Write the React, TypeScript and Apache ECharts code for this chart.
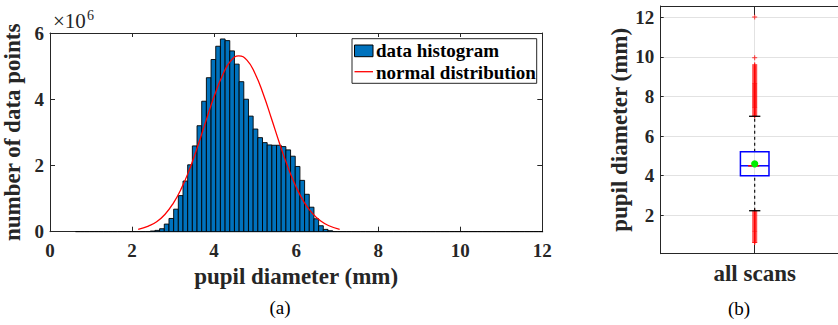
import React, { useEffect, useRef } from "react";
import * as echarts from "echarts";

const FONT = "Liberation Serif";
const TEXT = "#262626";
const BAR_BLUE = "#0072BD";

// ---- (a) histogram: 100 bins from the data min (0.62 mm), width 0.114 mm; heights in millions ----
const binStart = 0.62;
const binWidth = 0.114;
const binCountsMillions = [
  0, 0, 0, 0, 0, 0, 0, 0, 0, 0,
  0, 0, 0, 0, 0, 0, 0.02, 0.04, 0.09, 0.23,
  0.4, 0.68, 1.09, 1.53, 2.02, 2.59, 3.2, 3.94, 4.65, 5.2,
  5.6, 5.82, 5.77, 5.46, 5.06, 4.53, 4.0, 3.49, 3.1, 2.84,
  2.69, 2.62, 2.61, 2.61, 2.57, 2.47, 2.28, 1.97, 1.55, 1.13,
  0.74, 0.39, 0.18, 0.07, 0.03, 0, 0, 0, 0, 0,
  0, 0, 0, 0, 0, 0, 0, 0, 0, 0,
  0, 0, 0, 0, 0, 0, 0, 0, 0, 0,
  0, 0, 0, 0, 0, 0, 0, 0, 0, 0,
  0, 0, 0, 0, 0, 0, 0, 0, 0, 0,
];

// fitted normal distribution curve (x in mm, y in millions)
const normalX = [2.15, 2.4, 2.6, 2.8, 3.0, 3.2, 3.4, 3.6, 3.8, 4.0, 4.2, 4.4, 4.6, 4.8, 5.0, 5.2, 5.4, 5.6, 5.8, 6.0, 6.2, 6.4, 6.6, 6.8, 7.06];
const normalY = [0.07, 0.17, 0.3, 0.52, 0.85, 1.3, 1.88, 2.58, 3.34, 4.08, 4.71, 5.15, 5.31, 5.18, 4.77, 4.15, 3.41, 2.65, 1.95, 1.35, 0.88, 0.55, 0.32, 0.18, 0.07];

const legendLabels = ["data histogram", "normal distribution"];

// ---- (b) box plot ----
const boxCategory = "all scans";
const boxStats = { lowerWhisker: 2.23, q1: 4.0, median: 4.5, q3: 5.21, upperWhisker: 7.0, mean: 4.6 };
const upperOutliers = [
  7.02, 7.05, 7.1, 7.15, 7.2, 7.25, 7.3, 7.35, 7.4, 7.45, 7.5, 7.55, 7.6, 7.65, 7.7, 7.75, 7.8, 7.85, 7.9, 7.95,
  8.0, 8.05, 8.1, 8.15, 8.2, 8.25, 8.3, 8.35, 8.4, 8.45, 8.5, 8.55, 8.6, 8.65, 8.7, 8.75, 8.8, 8.85, 8.9, 8.95,
  9.0, 9.05, 9.1, 9.15, 9.2, 9.25, 9.3, 9.35, 9.4, 9.45, 9.5, 9.55, 9.6, 9.96, 12.02,
];
const lowerOutliers = [
  0.62, 0.65, 0.7, 0.75, 0.8, 0.85, 0.9, 0.95, 1.0, 1.05, 1.1, 1.15, 1.2, 1.25, 1.3, 1.35, 1.4, 1.45, 1.5, 1.55,
  1.6, 1.65, 1.7, 1.75, 1.8, 1.85, 1.9, 1.95, 2.0, 2.05, 2.1, 2.15, 2.2,
];

const PLUS = "path://M2,0H3V2H5V3H3V5H2V3H0V2H2Z";

function buildOption() {
  const histData = binCountsMillions.map((c, i) => [binStart + i * binWidth, binStart + (i + 1) * binWidth, c]);
  const normalData = normalX.map((x, i) => [x, normalY[i]]);
  const boxData = [[1, boxStats.lowerWhisker, boxStats.q1, boxStats.median, boxStats.q3, boxStats.upperWhisker, boxStats.mean]];
  const outlierData = [...upperOutliers, ...lowerOutliers].map((v) => [1, v]);

  const tickLabel = { fontFamily: FONT, fontWeight: "bold", fontSize: 19, color: TEXT };
  const nameStyle = { fontFamily: FONT, fontWeight: "bold", fontSize: 23, color: TEXT };
  const line = { lineStyle: { color: TEXT, width: 1 } };

  return {
    animation: false,
    textStyle: { fontFamily: FONT },
    grid: [
      { left: 50, top: 33, width: 492.3, height: 198.7, outerBoundsMode: "none", containLabel: false },
      { left: 660.7, top: 6, width: 188, height: 247.7, outerBoundsMode: "none", containLabel: false },
    ],
    xAxis: [
      {
        type: "value", gridIndex: 0, position: "bottom", min: 0, max: 12, interval: 2,
        axisLine: { onZero: false, ...line },
        axisTick: { inside: true, length: 5, ...line },
        axisLabel: { margin: 9, ...tickLabel },
        splitLine: { show: false },
        name: "pupil diameter (mm)", nameLocation: "middle", nameGap: 31, nameTextStyle: nameStyle,
      },
      {
        type: "value", gridIndex: 0, position: "top", min: 0, max: 12, interval: 2,
        axisLine: { onZero: false, ...line },
        axisTick: { inside: true, length: 4, ...line },
        axisLabel: { show: false },
        splitLine: { show: false },
      },
      {
        type: "value", gridIndex: 1, position: "bottom", min: 0, max: 2, interval: 1,
        axisLine: { onZero: false, ...line },
        axisTick: { inside: true, length: 9, ...line },
        axisLabel: {
          margin: 8, ...tickLabel, fontSize: 23,
          formatter: (v: number) => (v === 1 ? boxCategory : ""),
        },
        splitLine: { show: true, lineStyle: { color: "#e2e2e2", width: 1 } },
      },
      {
        type: "value", gridIndex: 1, position: "top", min: 0, max: 2, interval: 1,
        axisLine: { onZero: false, ...line },
        axisTick: { inside: true, length: 9, ...line },
        axisLabel: { show: false },
        splitLine: { show: false },
      },
    ],
    yAxis: [
      {
        type: "value", gridIndex: 0, position: "left", min: 0, max: 6, interval: 2,
        axisLine: { show: true, onZero: false, ...line },
        axisTick: { show: true, inside: true, length: 5, ...line },
        axisLabel: { margin: 6, ...tickLabel },
        splitLine: { show: false },
        name: "number of data points", nameLocation: "middle", nameGap: 9, nameRotate: 90, nameTextStyle: nameStyle,
      },
      {
        type: "value", gridIndex: 0, position: "right", min: 0, max: 6, interval: 2,
        axisLine: { show: true, onZero: false, ...line },
        axisTick: { show: true, inside: true, length: 5, ...line },
        axisLabel: { show: false },
        splitLine: { show: false },
      },
      {
        type: "value", gridIndex: 1, position: "left", min: 0.06, max: 12.57, splitNumber: 6,
        axisLine: { show: true, onZero: false, ...line },
        axisTick: { show: true, inside: true, length: 3, ...line },
        axisLabel: { margin: 6.5, showMinLabel: false, showMaxLabel: false, ...tickLabel },
        splitLine: { show: true, lineStyle: { color: "#e2e2e2", width: 1 } },
        name: "pupil diameter (mm)", nameLocation: "middle", nameGap: 28, nameRotate: 90, nameTextStyle: nameStyle,
      },
    ],
    series: [
      {
        type: "custom",
        name: legendLabels[0],
        xAxisIndex: 0,
        yAxisIndex: 0,
        data: histData,
        encode: { x: [0, 1], y: 2 },
        renderItem: (_p: any, api: any) => {
          const x0 = api.value(0);
          const x1 = api.value(1);
          const h = api.value(2);
          const a = api.coord([x0, h]);
          const b = api.coord([x1, 0]);
          if (h <= 0) {
            return { type: "line", shape: { x1: a[0], y1: b[1], x2: b[0], y2: b[1] }, style: { stroke: "#000", lineWidth: 1 } };
          }
          return {
            type: "rect",
            shape: { x: a[0], y: a[1], width: b[0] - a[0], height: b[1] - a[1] },
            style: { fill: BAR_BLUE, stroke: "#000", lineWidth: 0.9 },
          };
        },
        z: 2,
      },
      {
        type: "line",
        name: legendLabels[1],
        xAxisIndex: 0,
        yAxisIndex: 0,
        data: normalData,
        smooth: true,
        showSymbol: false,
        lineStyle: { color: "#ff0000", width: 1.3 },
        z: 3,
      },
      {
        type: "scatter",
        xAxisIndex: 2,
        yAxisIndex: 2,
        data: outlierData,
        symbol: PLUS,
        symbolSize: 5,
        itemStyle: { color: "#ff0000" },
        z: 3,
      },
      {
        type: "custom",
        xAxisIndex: 2,
        yAxisIndex: 2,
        data: boxData,
        encode: { x: 0, y: [1, 2, 3, 4, 5, 6] },
        renderItem: (_p: any, api: any) => {
          const cx = api.value(0);
          const lw = api.value(1), q1 = api.value(2), med = api.value(3), q3 = api.value(4), uw = api.value(5), mean = api.value(6);
          const half = 0.152;
          const capHalf = 0.06;
          const redHalf = 0.07;
          const pt = (x: number, y: number) => api.coord([x, y]);
          const pLw = pt(cx, lw), pQ1 = pt(cx, q1), pQ3 = pt(cx, q3), pUw = pt(cx, uw), pMed = pt(cx, med), pMean = pt(cx, mean);
          const xl = pt(cx - half, q1)[0], xr = pt(cx + half, q1)[0];
          const cl = pt(cx - capHalf, q1)[0], cr = pt(cx + capHalf, q1)[0];
          const rl = pt(cx - redHalf, q1)[0], rr = pt(cx + redHalf * 0.7, q1)[0];
          const dash = { stroke: "#000", lineWidth: 1.1, lineDash: [3, 3] };
          const solid = { stroke: "#000", lineWidth: 1.3 };
          return {
            type: "group",
            children: [
              { type: "line", shape: { x1: pQ3[0], y1: pQ3[1], x2: pUw[0], y2: pUw[1] }, style: dash },
              { type: "line", shape: { x1: pLw[0], y1: pLw[1], x2: pQ1[0], y2: pQ1[1] }, style: dash },
              { type: "line", shape: { x1: cl, y1: pUw[1], x2: cr, y2: pUw[1] }, style: solid },
              { type: "line", shape: { x1: cl, y1: pLw[1], x2: cr, y2: pLw[1] }, style: solid },
              { type: "rect", shape: { x: xl, y: pQ3[1], width: xr - xl, height: pQ1[1] - pQ3[1] }, style: { fill: "none", stroke: "#0000ff", lineWidth: 1.5 } },
              { type: "line", shape: { x1: xl, y1: pMed[1], x2: xr, y2: pMed[1] }, style: { stroke: "#0000ff", lineWidth: 1.5 } },
              { type: "line", shape: { x1: rl, y1: pMed[1], x2: rr, y2: pMed[1] }, style: { stroke: "#ff0000", lineWidth: 1.5 } },
              { type: "circle", shape: { cx: pMean[0], cy: pMean[1], r: 3.6 }, style: { fill: "#00ee00" } },
            ],
          };
        },
        z: 4,
      },
    ],
    graphic: [
      { type: "text", x: 53, y: 21.2, style: { text: "×10", fontFamily: FONT, fontSize: 21, fill: TEXT, verticalAlign: "middle", align: "left" } },
      { type: "text", x: 87, y: 15.3, style: { text: "6", fontFamily: FONT, fontSize: 14, fill: TEXT, verticalAlign: "middle", align: "left" } },
      // legend
      { type: "rect", shape: { x: 352, y: 38.7, width: 184.7, height: 44.6 }, style: { fill: "#fff", stroke: TEXT, lineWidth: 1 }, z: 10 },
      { type: "rect", shape: { x: 354.5, y: 45, width: 18.5, height: 11.7 }, style: { fill: BAR_BLUE, stroke: "#000", lineWidth: 1 }, z: 11 },
      { type: "line", shape: { x1: 354.5, y1: 71.7, x2: 373, y2: 71.7 }, style: { stroke: "#ff0000", lineWidth: 1.3 }, z: 11 },
      { type: "text", x: 376, y: 50.3, style: { text: legendLabels[0], fontFamily: FONT, fontWeight: "bold", fontSize: 19, fill: "#000", verticalAlign: "middle", align: "left" }, z: 11 },
      { type: "text", x: 376, y: 72.9, style: { text: legendLabels[1], fontFamily: FONT, fontWeight: "bold", fontSize: 19, fill: "#000", verticalAlign: "middle", align: "left" }, z: 11 },
      // sub-figure captions
      { type: "text", x: 280, y: 307, style: { text: "(a)", fontFamily: FONT, fontSize: 19, fill: "#000", verticalAlign: "middle", align: "center" } },
      { type: "text", x: 739, y: 308, style: { text: "(b)", fontFamily: FONT, fontSize: 19, fill: "#000", verticalAlign: "middle", align: "center" } },
    ],
  };
}

export default function App() {
  const ref = useRef<HTMLDivElement>(null);
  useEffect(() => {
    if (!ref.current) return;
    const chart = echarts.init(ref.current, null, { renderer: "svg" });
    chart.setOption(buildOption() as any);
    return () => chart.dispose();
  }, []);
  return (
    <div style={{ position: "fixed", left: 0, top: 0, width: 838, height: 325, overflow: "hidden", background: "#fff" }}>
      <div ref={ref} style={{ width: 860, height: 325 }} />
    </div>
  );
}
